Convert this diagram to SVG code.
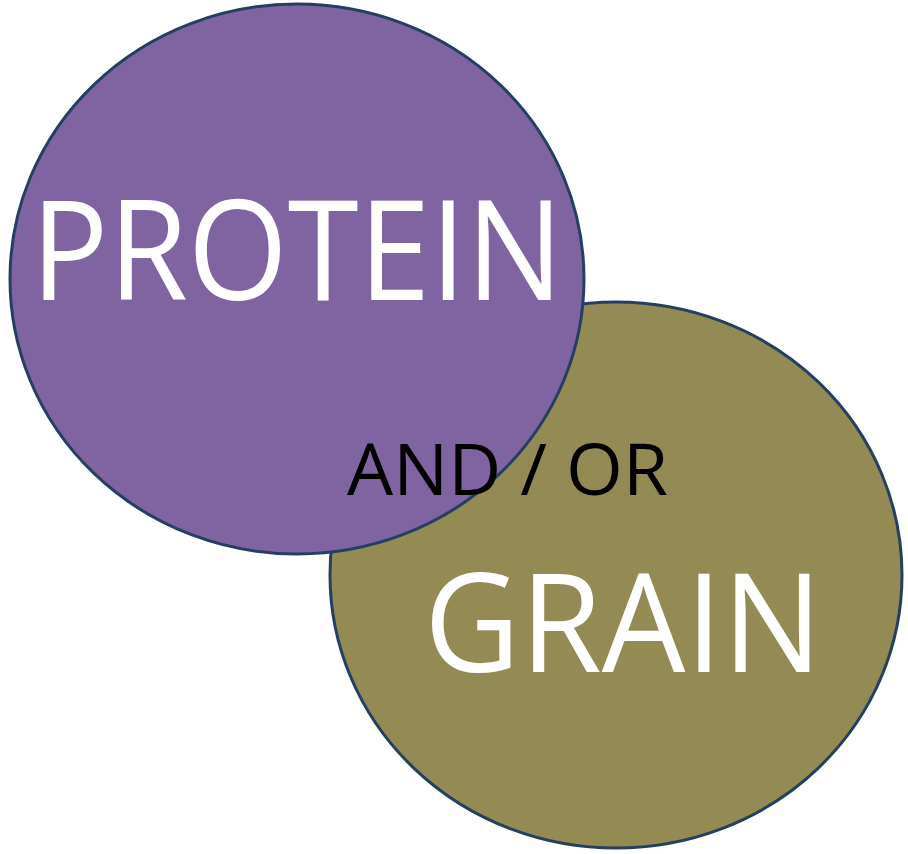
<svg xmlns="http://www.w3.org/2000/svg" width="908" height="854" viewBox="0 0 908 854">
<style>
.circ{stroke:#243f60;stroke-width:3}
.big{font-family:"Open Sans","Liberation Sans",sans-serif;fill:#ffffff}
.mid{font-family:"Open Sans","Liberation Sans",sans-serif;fill:#000000}
</style>
<rect width="908" height="854" fill="#ffffff"/>
<g id="grain">
<ellipse class="circ" cx="616" cy="575" rx="286" ry="273" fill="#948a54"/>
</g>
<g id="protein">
<ellipse class="circ" cx="297" cy="279" rx="287" ry="275" fill="#8064a2"/>
<text class="big" x="31" y="300" font-size="140" textLength="532" lengthAdjust="spacingAndGlyphs">PROTEIN</text>
</g>
<g id="grain-label">
<text class="big" x="424" y="672" font-size="138" textLength="398" lengthAdjust="spacingAndGlyphs">GRAIN</text>
</g>
<g id="andor">
<text class="mid" x="347" y="495" font-size="72" textLength="321" lengthAdjust="spacingAndGlyphs">AND / OR</text>
</g>
<g id="connectors"/>
</svg>
